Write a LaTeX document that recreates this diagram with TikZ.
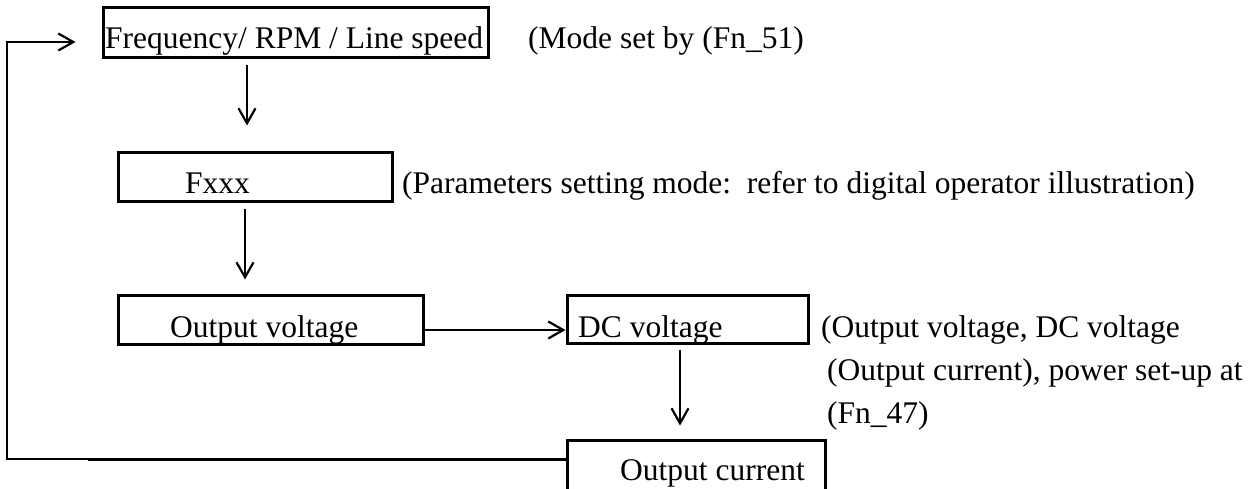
\documentclass[tikz,border=0pt]{standalone}
\usepackage{fontspec}
\setmainfont{Liberation Serif}
\usetikzlibrary{arrows.meta}

\tikzset{
    box/.style={draw, line width=3pt, inner sep=0pt, minimum width=#1, minimum height=49pt},
    txt/.style={anchor=base west, inner sep=0pt, font=\fontsize{31.5}{38}\selectfont},
    flow/.style={line width=2.2pt, -{Straight Barb[length=15pt, width=17pt, line width=2.2pt]}}
}

\begin{document}
\begin{tikzpicture}[x=1pt, y=-1pt]
\useasboundingbox (0,0) rectangle (1260,488);

\node[box=385pt, minimum height=50pt] (freq) at (295.5,32) {};
\node[box=274pt] (fxxx) at (255,176.5) {};
\node[box=305pt] (outv) at (270.5,319.5) {};
\node[box=241pt, minimum height=48pt] (dcv) at (687.5,319) {};
\node[box=258pt, minimum height=50pt] (outc) at (696,465) {};

\node[txt] (freq-txt) at (105,48) {Frequency/ RPM / Line speed};
\node[txt] (fxxx-txt) at (185,193) {Fxxx};
\node[txt] (outv-txt) at (170,337) {Output voltage};
\node[txt] (dcv-txt) at (578,337) {DC voltage};
\node[txt] (outc-txt) at (620,480) {Output current};

\node[txt] (mode) at (528,48) {(Mode set by (Fn\_51)};
\node[txt] (param) at (402,193) {(Parameters setting mode:\ \ refer to digital operator illustration)};
\node[txt] (note-a) at (821,337) {(Output voltage, DC voltage};
\node[txt] (note-b) at (827,380) {(Output current), power set-up at};
\node[txt] (note-c) at (827,423) {(Fn\_47)};

\coordinate (down-a) at (247,0);
\coordinate (down-b) at (245,0);
\coordinate (down-c) at (680,0);
\coordinate (back-left) at (7,0);
\coordinate (back-join) at (88,459);

\draw[flow, shorten <=6pt, shorten >=25pt] (down-a |- freq.south) -- (down-a |- fxxx.north);
\draw[flow, shorten <=6pt, shorten >=14pt] (down-b |- fxxx.south) -- (down-b |- outv.north);
\draw[flow] ([yshift=-10.5pt]outv.east) -- ([yshift=-10.5pt]outv.east -| dcv.west);
\draw[flow, shorten <=5pt, shorten >=13pt] (down-c |- dcv.south) -- (down-c |- outc.north);

\draw[line width=3pt] ([yshift=6pt]outc.west) -- (back-join);
\draw[flow, shorten >=26pt] (back-join) -- (back-left |- back-join) -- (back-left |- 0,42) -- (freq.west |- 0,42);

\end{tikzpicture}
\end{document}
